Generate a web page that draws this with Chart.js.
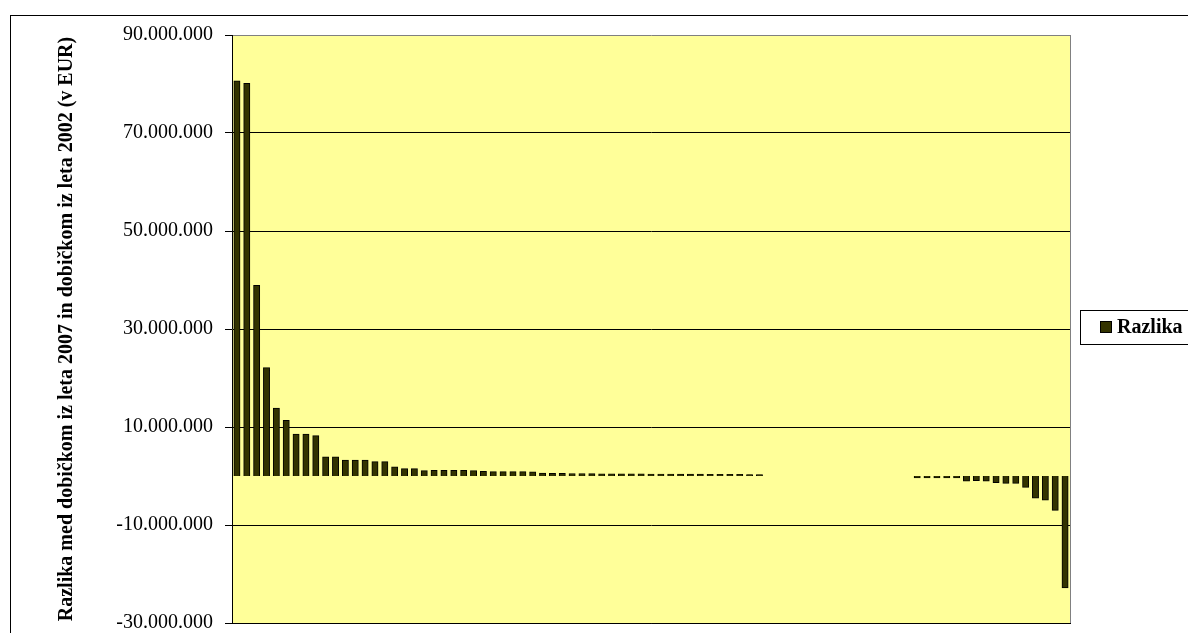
<!DOCTYPE html>
<html>
<head>
<meta charset="utf-8">
<script src="https://cdn.jsdelivr.net/npm/chart.js@4"></script>
<style>
html,body{margin:0;padding:0;background:#fff;}
canvas{display:block;}
</style>
</head>
<body>
<canvas id="c" width="1188" height="633"></canvas>
<script>
// ---- Data ----
const categories = ["1","2","3","4","5","6","7","8","9","10","11","12","13","14","15","16","17","18","19","20",
"21","22","23","24","25","26","27","28","29","30","31","32","33","34","35","36","37","38","39","40",
"41","42","43","44","45","46","47","48","49","50","51","52","53","54","55","56","57","58","59","60",
"61","62","63","64","65","66","67","68","69","70","71","72","73","74","75","76","77","78","79","80",
"81","82","83","84","85"];

const seriesName = "Razlika";

const razlika = [
  80500000, 80000000, 38800000, 22000000, 13700000, 11200000, 8400000, 8400000, 8100000, 3800000,
  3800000, 3100000, 3100000, 3100000, 2800000, 2800000, 1750000, 1400000, 1400000,
  950000, 1000000, 1000000, 1000000, 1000000, 950000,
  800000, 750000, 750000, 750000, 750000, 700000,
  450000, 420000, 400000, 380000, 360000, 350000, 330000, 320000, 310000, 300000,
  290000, 280000, 270000, 260000, 250000, 240000, 230000, 220000, 210000, 200000,
  190000, 170000, 150000,
  null, null, null, null, null, null, null, null, null, null, null, null, null, null, null,
  -250000, -250000, -250000, -250000, -250000, -900000, -800000, -900000, -1200000, -1400000,
  -1400000, -2200000, -4400000, -4800000, -6900000, -22700000
];

const yTicks = [-30000000, -10000000, 10000000, 30000000, 50000000, 70000000, 90000000];
const yTitle = "Razlika med dobičkom iz leta 2007 in dobičkom iz leta 2002 (v EUR)";

// ---- Helpers ----
const FONT = "'Liberation Serif', 'Times New Roman', serif";
function fmt(v){
  const neg = v < 0;
  const s = Math.abs(Math.round(v)).toString().replace(/\B(?=(\d{3})+(?!\d))/g, ".");
  return (neg ? "-" : "") + s;
}

const decor = {
  id: 'decor',
  beforeDraw(chart){
    const {ctx, chartArea:a} = chart;
    ctx.save();
    ctx.fillStyle = '#ffffff';
    ctx.fillRect(0,0,chart.width,chart.height);
    ctx.fillStyle = '#FFFF99';
    ctx.fillRect(a.left, a.top, a.right-a.left, a.bottom-a.top);
    ctx.restore();
  },
  beforeDatasetsDraw(chart){
    const {ctx, chartArea:a} = chart;
    ctx.save();
    ctx.strokeStyle = '#808080';
    ctx.lineWidth = 1;
    ctx.beginPath();
    ctx.moveTo(Math.round(a.right)+0.5, a.top);
    ctx.lineTo(Math.round(a.right)+0.5, a.bottom);
    ctx.stroke();
    ctx.restore();
  },
  afterDraw(chart){
    const {ctx} = chart;
    ctx.save();
    ctx.strokeStyle = '#000';
    ctx.lineWidth = 1;
    ctx.strokeRect(10.5, 15.5, 1300, 700);
    const ds = chart.data.datasets[0];
    ctx.fillStyle = '#fff';
    ctx.fillRect(1080.5, 310.5, 200, 34);
    ctx.strokeRect(1080.5, 310.5, 200, 34);
    ctx.fillStyle = ds.backgroundColor;
    ctx.fillRect(1100, 321, 12, 12);
    ctx.strokeStyle = '#000';
    ctx.strokeRect(1100.5, 321.5, 11, 11);
    ctx.fillStyle = '#000';
    ctx.font = "bold 20px " + FONT;
    ctx.textBaseline = 'middle';
    ctx.textAlign = 'left';
    ctx.fillText(ds.label, 1117, 328);
    ctx.restore();
  }
};

new Chart(document.getElementById('c'), {
  type: 'bar',
  data: {
    labels: categories,
    datasets: [{
      label: seriesName,
      data: razlika,
      backgroundColor: '#333300',
      borderColor: '#000000',
      borderWidth: 1,
      inflateAmount: 1,
      barPercentage: 0.5,
      categoryPercentage: 1.0
    }]
  },
  options: {
    responsive: false,
    animation: false,
    devicePixelRatio: 1,
    layout: { padding: { left: 0, top: 35, right: 118, bottom: 10 } },
    plugins: { legend: { display: false }, tooltip: { enabled: false } },
    scales: {
      x: {
        type: 'category',
        offset: true,
        ticks: { display: false },
        grid: { display: false, drawTicks: false },
        border: { display: true, color: '#000', width: 1 }
      },
      y: {
        min: -30000000,
        max: 90000000,
        afterBuildTicks(scale){ scale.ticks = yTicks.map(v => ({value: v})); },
        afterFit(scale){ scale.width = 232; scale.paddingTop = 0; scale.paddingBottom = 0; },
        ticks: {
          color: '#000',
          padding: 12,
          font: { family: FONT, size: 20 },
          callback: (v) => fmt(v)
        },
        grid: {
          color: (c) => (c.tick && c.tick.value === 90000000) ? '#808080' : '#000',
          tickColor: '#000',
          tickLength: 7,
          lineWidth: 1
        },
        border: { display: true, color: '#000', width: 1 },
        title: {
          display: true,
          text: yTitle,
          color: '#000',
          font: { family: FONT, size: 20, weight: 'bold' },
          padding: { top: 55, bottom: 0 }
        }
      }
    }
  },
  plugins: [decor]
});
</script>
</body>
</html>
